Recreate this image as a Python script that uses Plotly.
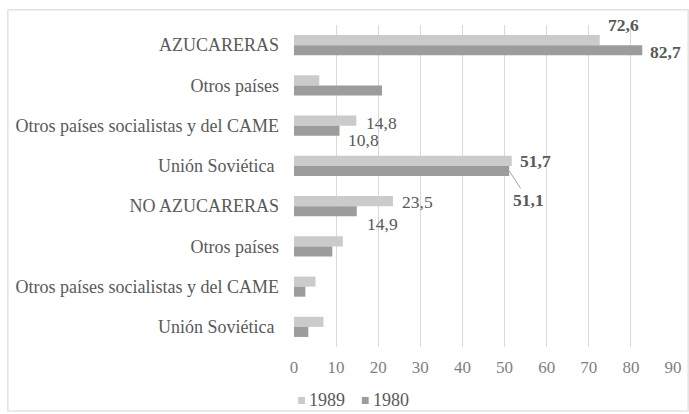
import plotly.graph_objects as go

categories = [
    "AZUCARERAS",
    "Otros países",
    "Otros países socialistas y del CAME",
    "Unión Soviética ",
    "NO AZUCARERAS",
    "Otros países",
    "Otros países socialistas y del CAME",
    "Unión Soviética ",
]
values_1989 = [72.6, 6.0, 14.8, 51.7, 23.5, 11.6, 5.1, 7.0]
values_1980 = [82.7, 20.9, 10.8, 51.1, 14.9, 9.1, 2.7, 3.4]
series_names = ["1989", "1980"]
x_ticks = [0, 10, 20, 30, 40, 50, 60, 70, 80, 90]

FONT = "Liberation Serif"
TXT = "#595959"
C1989 = "#cbcbcb"
C1980 = "#9c9c9c"
colors = [C1989, C1980]

pos = list(range(len(categories)))

fig = go.Figure()
for name, vals, col in zip(series_names, [values_1989, values_1980], colors):
    fig.add_trace(go.Bar(y=pos, x=vals, orientation="h", name=name,
                         marker=dict(color=col, line=dict(width=0)), showlegend=False))

# label specs: (series values, category index, xshift, yshift, bold, arrow)
labels = [
    (values_1989, 0, 6, 20, True, False),
    (values_1980, 0, 6, -7, True, False),
    (values_1989, 2, 8, 3, False, False),
    (values_1980, 2, 7, -14, False, False),
    (values_1989, 3, 6, 5, True, False),
    (values_1980, 3, 0, -5, True, True),
    (values_1989, 4, 7, 4, False, False),
    (values_1980, 4, 8, -18, False, False),
]
for vals, i, dx, dy, bold, arrow in labels:
    v = vals[i]
    txt = f"{v:.1f}".replace(".", ",")
    if bold:
        txt = f"<b>{txt}</b>"
    if arrow:
        fig.add_annotation(x=v, y=i, yshift=dy, text=txt, showarrow=True,
                           arrowhead=0, arrowwidth=1, arrowcolor="#a0a0a0",
                           ax=19, ay=29, font=dict(family=FONT, size=17.5, color=TXT))
    else:
        fig.add_annotation(x=v, y=i, xshift=dx, yshift=dy, text=txt, showarrow=False,
                           xanchor="left", font=dict(family=FONT, size=17.5, color=TXT))

# manual legend (small squares + labels)
leg_sq = [(0.011, 0.029), (0.179, 0.197)]
leg_tx = [0.034, 0.202]
shapes = [dict(type="rect", xref="paper", yref="paper", x0=-0.755, x1=1.04,
               y0=-0.199, y1=1.047, line=dict(color="#e3e3e3", width=1.5), layer="below")]
for (a, b), col, tx, name in zip(leg_sq, colors, leg_tx, series_names):
    shapes.append(dict(type="rect", xref="paper", yref="paper", x0=a, x1=b,
                       y0=-0.177, y1=-0.155, fillcolor=col, line=dict(width=0)))
    fig.add_annotation(xref="paper", yref="paper", x=tx, y=-0.166, text=name,
                       showarrow=False, xanchor="left", yanchor="middle",
                       font=dict(family=FONT, size=18, color=TXT))

fig.update_layout(
    width=689, height=414,
    barmode="group", bargap=0.5, bargroupgap=0,
    paper_bgcolor="white", plot_bgcolor="white",
    margin=dict(l=294, r=16, t=25, b=67, autoexpand=False),
    font=dict(family=FONT, size=17, color=TXT),
    showlegend=False,
    shapes=shapes,
)
fig.update_xaxes(range=[0, 90], tickvals=x_ticks, showgrid=True, gridcolor="#d9d9d9",
                 gridwidth=1, zeroline=False, showline=False, ticks="", automargin=False,
                 ticklabelstandoff=8,
                 tickfont=dict(family=FONT, size=17, color="#7f7f7f"))
fig.update_yaxes(tickvals=pos, ticktext=categories, autorange="reversed",
                 showgrid=False, zeroline=False, showline=False, ticks="",
                 ticklabelstandoff=14, automargin=False,
                 tickfont=dict(family=FONT, size=18, color=TXT))

fig.write_html("out.html", post_script="document.body.style.margin='0';",
               config={"displayModeBar": False})
